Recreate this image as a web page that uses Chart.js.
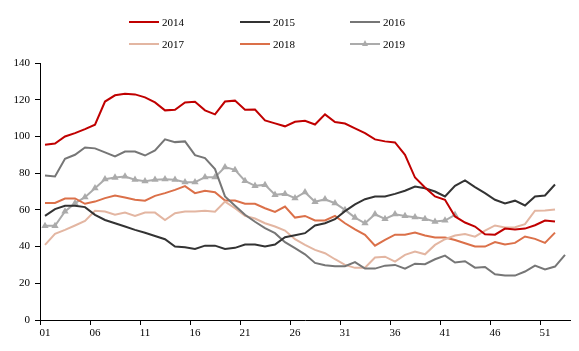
<!DOCTYPE html>
<html>
<head>
<meta charset="utf-8">
<script src="https://cdn.jsdelivr.net/npm/chart.js@4"></script>
<style>
  html, body { margin: 0; padding: 0; background: #fff; }
  #wrap { position: relative; width: 579px; height: 351px; }
  canvas { position: absolute; left: 0; top: 0; }
  .lg { position: absolute; font-family: "Liberation Serif", "Times New Roman", serif; font-size: 11px; color: #000; line-height: 12px; }
  .lg .ln { position: absolute; width: 30px; height: 2px; top: 5px; left: 0; }
  .lg .tx { position: absolute; left: 33px; top: 0; white-space: nowrap; }
  .lg .tri { position: absolute; left: 12px; top: 2px; width: 0; height: 0; border-left: 3.5px solid transparent; border-right: 3.5px solid transparent; border-bottom: 6px solid #AAAAAA; }
</style>
</head>
<body>
<div id="wrap">
  <canvas id="c" width="579" height="351"></canvas>
  <div id="legend"></div>
</div>
<script>
// ---- data ----
const weeks = ["01","02","03","04","05","06","07","08","09","10","11","12","13","14","15","16","17","18","19","20",
  "21","22","23","24","25","26","27","28","29","30","31","32","33","34","35","36","37","38","39","40",
  "41","42","43","44","45","46","47","48","49","50","51","52","53"];
const yTicks = [0, 20, 40, 60, 80, 100, 120, 140];
const seriesNames = ["2014", "2015", "2016", "2017", "2018", "2019"];

const s2014 = [95.5,96.1,100,101.8,104,106.4,119,122.4,123.3,122.9,121.3,118.5,114.2,114.5,118.5,118.9,114.2,112,119,119.5,
  114.5,114.6,108.7,107.1,105.5,108,108.5,106.5,112,107.8,107,104.4,101.8,98.4,97.3,96.7,90,77.6,72.2,67.3,
  65.5,56.4,53.1,50.9,46.7,46.5,49.8,49.3,49.8,51.6,54.2,53.6,null];
const s2015 = [56.7,60.4,62.2,62.2,61.5,57.3,54.5,52.7,50.9,49.1,47.5,45.8,44,40,39.6,38.7,40.5,40.5,38.7,39.3,
  41.1,41.1,40,41.1,45.1,46.2,47.3,51.5,52.7,54.9,59.3,63,65.8,67.3,67.3,68.7,70.4,72.7,71.8,70,
  67.3,73.1,76,72.4,69.1,65.5,63.5,65,62.4,67.3,67.8,73.8,null];
const s2016 = [78.7,78.2,87.8,90,94,93.5,91.3,89.1,91.8,91.8,89.6,92.4,98.4,96.9,97.3,89.8,88.2,82.2,67.3,62.2,
  57.3,53.5,50,47.3,42.4,39.1,35.8,31.1,29.8,29.3,29.3,31.5,28,28,29.6,30,28,30.7,30.4,33.1,
  35.1,31.3,32,28.5,28.9,24.9,24.2,24.2,26.4,29.6,27.5,29.1,35.5];
const s2017 = [40.9,46.9,49.1,51.5,54,59.5,59.1,57.3,58.5,56.7,58.5,58.5,54.5,58.2,59.1,59.1,59.5,59,64.5,60.9,
  56.7,55.3,52.7,50.9,48.7,44,40.9,38.2,36.4,33.1,30,28.4,28.5,34,34.5,31.8,35.5,37.3,35.8,40.9,
  44,46,46.8,45.4,48.7,51.5,50.4,50.5,52.2,59.5,59.6,60.2,null];
const s2018 = [63.8,63.8,66.2,66.2,63.3,64.5,66.4,67.8,66.7,65.5,65,67.6,69.1,70.9,72.9,69.1,70.4,69.6,65.1,65.1,
  63.3,63.3,60.9,58.9,61.8,55.8,56.7,54.2,54.2,56.7,52.7,49.4,46.4,40.5,43.6,46.5,46.5,47.6,46,44.9,
  44.9,43.6,41.8,40,40,42.5,41.1,42,45.5,44.2,42,47.6,null];
const s2019 = [51.3,51.3,59.1,63.6,66.9,71.8,76.7,77.6,78.2,76.4,75.6,76.4,76.7,76.4,75.1,75.1,77.8,77.8,83.3,81.8,
  75.8,73.1,73.6,68.2,68.7,66.4,69.6,64.4,65.8,63.6,60,55.8,52.7,57.6,55.1,57.6,56.7,56,55.1,53.6,
  54.2,57.3];

const seriesData = [s2014, s2015, s2016, s2017, s2018, s2019];
const seriesColors = ["#C00000", "#333333", "#767676", "#E3B6A2", "#DB7049", "#ABABAB"];

// ---- legend (HTML) ----
const legendPos = [[129,16],[240,16],[350,16],[129,38],[240,38],[350,38]];
const legendEl = document.getElementById('legend');
seriesNames.forEach((n, i) => {
  const d = document.createElement('div');
  d.className = 'lg';
  d.style.left = legendPos[i][0] + 'px';
  d.style.top = legendPos[i][1] + 'px';
  let html = '<div class="ln" style="background:' + seriesColors[i] + '"></div>';
  if (i === 5) html += '<div class="tri"></div>';
  html += '<div class="tx">' + n + '</div>';
  d.innerHTML = html;
  legendEl.appendChild(d);
});

// ---- chart ----
const font = { family: '"Liberation Serif", "Times New Roman", serif', size: 11 };
const datasets = seriesNames.map((n, i) => ({
  label: n,
  data: seriesData[i],
  borderColor: seriesColors[i],
  backgroundColor: seriesColors[i],
  borderWidth: 2,
  tension: 0,
  fill: false,
  spanGaps: false,
  pointStyle: i === 5 ? 'triangle' : 'circle',
  pointRadius: i === 5 ? 4.2 : 0,
  pointBorderWidth: 0,
  pointHoverRadius: i === 5 ? 4.2 : 0
}));

new Chart(document.getElementById('c'), {
  type: 'line',
  data: { labels: weeks, datasets: datasets },
  options: {
    responsive: false,
    animation: false,
    layout: { padding: { left: 0, right: 9, top: 63, bottom: 0 } },
    plugins: { legend: { display: false }, tooltip: { enabled: false } },
    scales: {
      x: {
        type: 'category',
        offset: true,
        border: { display: true, color: '#000', width: 1 },
        grid: {
          offset: true,
          drawOnChartArea: false,
          drawTicks: true,
          tickLength: 5,
          color: (ctx) => (ctx.index % 5 === 0 ? '#000' : 'rgba(0,0,0,0)')
        },
        ticks: {
          autoSkip: false,
          maxRotation: 0,
          minRotation: 0,
          padding: 2,
          color: '#000',
          font: font,
          callback: function (v, idx) { return idx % 5 === 0 ? weeks[idx] : ''; }
        },
        afterFit: (s) => { s.height = 31; }
      },
      y: {
        min: yTicks[0],
        max: yTicks[yTicks.length - 1],
        border: { display: true, color: '#000', width: 1 },
        grid: { drawOnChartArea: false, drawTicks: true, tickLength: 5, color: '#000' },
        afterBuildTicks: (s) => { s.ticks = yTicks.map(v => ({ value: v })); },
        ticks: { color: '#000', font: font, padding: 5 },
        afterFit: (s) => { s.width = 40; }
      }
    }
  }
});
</script>
</body>
</html>
